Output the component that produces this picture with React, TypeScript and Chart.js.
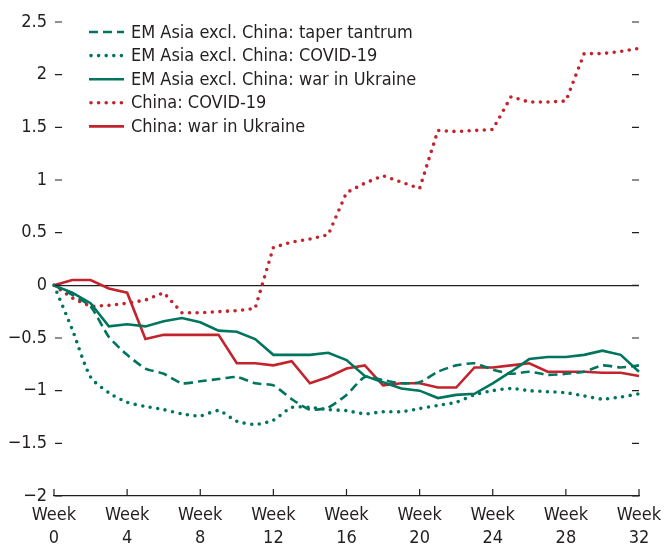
import React, { useEffect, useRef } from 'react';
import { Chart, registerables } from 'chart.js';

Chart.register(...registerables);

// weeks since the start of each episode
const weeks = [0, 1, 2, 3, 4, 5, 6, 7, 8, 9, 10, 11, 12, 13, 14, 15, 16, 17, 18, 19, 20, 21, 22, 23, 24, 25, 26, 27, 28, 29, 30, 31, 32];

const emTaper = [0, -0.09, -0.2, -0.49, -0.66, -0.79, -0.84, -0.93, -0.91, -0.89, -0.87, -0.93, -0.95, -1.08, -1.18, -1.16, -1.04, -0.87, -0.9, -0.93, -0.92, -0.82, -0.76, -0.74, -0.8, -0.84, -0.82, -0.85, -0.84, -0.82, -0.76, -0.78, -0.76];
const emCovid = [0, -0.42, -0.87, -1.02, -1.11, -1.15, -1.18, -1.22, -1.24, -1.19, -1.29, -1.32, -1.28, -1.16, -1.16, -1.18, -1.19, -1.22, -1.2, -1.2, -1.17, -1.14, -1.11, -1.04, -1.0, -0.98, -1.0, -1.01, -1.02, -1.05, -1.08, -1.06, -1.03];
const emWar = [0, -0.07, -0.17, -0.39, -0.37, -0.39, -0.34, -0.31, -0.35, -0.43, -0.44, -0.51, -0.66, -0.66, -0.66, -0.64, -0.71, -0.86, -0.92, -0.98, -1.0, -1.07, -1.04, -1.03, -0.93, -0.82, -0.7, -0.68, -0.68, -0.66, -0.62, -0.66, -0.82];
const chinaCovid = [0, -0.12, -0.2, -0.19, -0.17, -0.14, -0.07, -0.26, -0.26, -0.25, -0.24, -0.22, 0.36, 0.41, 0.44, 0.48, 0.88, 0.97, 1.04, 0.98, 0.92, 1.47, 1.46, 1.47, 1.48, 1.79, 1.74, 1.74, 1.75, 2.2, 2.2, 2.22, 2.25];
const chinaWar = [0, 0.05, 0.05, -0.03, -0.07, -0.51, -0.47, -0.47, -0.47, -0.47, -0.74, -0.74, -0.76, -0.72, -0.93, -0.87, -0.79, -0.76, -0.95, -0.93, -0.93, -0.97, -0.97, -0.78, -0.78, -0.76, -0.74, -0.82, -0.82, -0.82, -0.83, -0.83, -0.86];

const seriesNames = [
  'EM Asia excl. China: taper tantrum',
  'EM Asia excl. China: COVID-19',
  'EM Asia excl. China: war in Ukraine',
  'China: COVID-19',
  'China: war in Ukraine',
];

const TEAL = '#00755e';
const RED = '#c3232c';
const INK = '#231f20';
const FONT = "'Liberation Sans Narrow', 'Arial Narrow', 'DejaVu Sans Condensed', sans-serif";

const fmt = (v: number) => (v < 0 ? '\u2212' + Math.abs(v) : String(v));

// inward tick marks on the left, right and bottom edges
const tickMarks = {
  id: 'tickMarks',
  afterDraw(chart: any) {
    const { ctx, chartArea } = chart;
    const x = chart.scales.x;
    const y = chart.scales.y;
    ctx.save();
    ctx.strokeStyle = INK;
    ctx.lineWidth = 1.2;
    ctx.beginPath();
    y.ticks.forEach((t: any) => {
      const py = y.getPixelForValue(t.value);
      ctx.moveTo(chartArea.left + 1, py);
      ctx.lineTo(chartArea.left + 8, py);
      ctx.moveTo(chartArea.right - 7, py);
      ctx.lineTo(chartArea.right, py);
    });
    weeks.forEach((w, i) => {
      if (w % 4 !== 0) return;
      const px = x.getPixelForValue(i);
      ctx.moveTo(px, chartArea.bottom);
      ctx.lineTo(px, chartArea.bottom - 7);
    });
    ctx.stroke();
    ctx.restore();
  },
};

// legend drawn inside the plot area, top-left
const insideLegend = {
  id: 'insideLegend',
  afterDraw(chart: any) {
    const { ctx, chartArea } = chart;
    ctx.save();
    ctx.font = `18px ${FONT}`;
    ctx.textBaseline = 'middle';
    chart.data.datasets.forEach((ds: any, i: number) => {
      const yy = chartArea.top + 10 + i * 23.6;
      const x0 = chartArea.left + 35;
      ctx.save();
      ctx.strokeStyle = ds.borderColor;
      ctx.lineWidth = ds.borderWidth;
      ctx.lineCap = ds.borderCapStyle || 'butt';
      ctx.setLineDash(ds.borderDash || []);
      ctx.beginPath();
      ctx.moveTo(x0 + (ds.borderCapStyle === 'round' ? 2 : 0), yy);
      ctx.lineTo(x0 + 35, yy);
      ctx.stroke();
      ctx.restore();
      ctx.fillStyle = INK;
      ctx.fillText(ds.label, x0 + 42, yy + 1);
    });
    ctx.restore();
  },
};

const App: React.FC = () => {
  const canvasRef = useRef<HTMLCanvasElement>(null);

  useEffect(() => {
    const chart = new Chart(canvasRef.current!, {
      type: 'line',
      data: {
        labels: weeks,
        datasets: [
          { label: seriesNames[0], data: emTaper, borderColor: TEAL, borderWidth: 2.6, borderDash: [9, 5], tension: 0.2 },
          { label: seriesNames[1], data: emCovid, borderColor: TEAL, borderWidth: 3.6, borderDash: [0, 7.6], borderCapStyle: 'round', tension: 0.25 },
          { label: seriesNames[2], data: emWar, borderColor: TEAL, borderWidth: 2.6 },
          { label: seriesNames[3], data: chinaCovid, borderColor: RED, borderWidth: 3.6, borderDash: [0, 7.6], borderCapStyle: 'round' },
          { label: seriesNames[4], data: chinaWar, borderColor: RED, borderWidth: 2.6 },
        ],
      },
      options: {
        animation: false,
        responsive: true,
        maintainAspectRatio: false,
        layout: { padding: { top: 22, right: 31, left: 0, bottom: 0 } },
        elements: { point: { radius: 0 }, line: { fill: false } },
        plugins: { legend: { display: false }, tooltip: { enabled: false } },
        scales: {
          x: {
            type: 'category',
            grid: { display: false, drawTicks: false },
            border: { display: true, color: INK, width: 1.2 },
            afterFit: (s: any) => { s.height = 54; },
            ticks: {
              autoSkip: false,
              maxRotation: 0,
              padding: 8,
              color: INK,
              font: { family: FONT, size: 18, lineHeight: 1.28 },
              callback: (_v: any, i: number) => (weeks[i] % 4 === 0 ? ['Week', String(weeks[i])] : null),
            },
          },
          y: {
            min: -2,
            max: 2.5,
            border: { display: false },
            grid: {
              drawTicks: false,
              color: (c: any) => (c.tick && c.tick.value === 0 ? INK : 'rgba(0,0,0,0)'),
              lineWidth: 1.2,
            },
            afterFit: (s: any) => { s.width = 54; },
            ticks: {
              stepSize: 0.5,
              padding: 7,
              color: INK,
              font: { family: FONT, size: 18 },
              callback: (v: any) => fmt(Number(v)),
            },
          },
        },
      },
      plugins: [tickMarks, insideLegend],
    });
    return () => {
      chart.destroy();
    };
  }, []);

  return (
    <div style={{ position: 'absolute', left: 0, top: 0, width: 670, height: 550, background: '#fff' }}>
      <canvas ref={canvasRef} />
    </div>
  );
};

export default App;
